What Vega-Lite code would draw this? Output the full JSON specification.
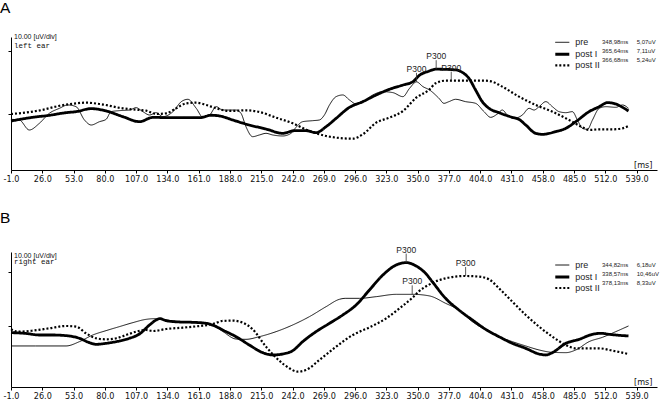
{
  "$schema": "https://vega.github.io/schema/vega-lite/v6.json",
  "padding": 0,
  "spacing": 28,
  "background": "white",
  "config": {"view": {"stroke": null}, "font": "Liberation Sans", "axis": {"labelOverlap": false}},
  "resolve": {
    "scale": {"strokeDash": "independent", "opacity": "independent"},
    "legend": {"strokeDash": "independent", "opacity": "independent"}
  },
  "datasets": {
    "a": [
      {"s":"pre","ms":-1,"uv":-0.85},{"s":"pre","ms":6.2,"uv":-0.95},{"s":"pre","ms":14.8,"uv":-2.54},{"s":"pre","ms":23.5,"uv":-1.48},{"s":"pre","ms":32.1,"uv":0.11},{"s":"pre","ms":40.8,"uv":0.9},{"s":"pre","ms":48,"uv":1.43},{"s":"pre","ms":55.2,"uv":1.16},{"s":"pre","ms":62.4,"uv":-0.95},{"s":"pre","ms":68.2,"uv":-1.75},{"s":"pre","ms":75.4,"uv":-1.22},{"s":"pre","ms":81.1,"uv":-0.85},{"s":"pre","ms":85.4,"uv":0.37},{"s":"pre","ms":92.6,"uv":0.53},{"s":"pre","ms":101.3,"uv":0.63},{"s":"pre","ms":107,"uv":1.0},{"s":"pre","ms":112.8,"uv":0.37},{"s":"pre","ms":118.6,"uv":-0.16},{"s":"pre","ms":124.3,"uv":0.21},{"s":"pre","ms":130.1,"uv":-0.42},{"s":"pre","ms":138.8,"uv":0.37},{"s":"pre","ms":146,"uv":1.96},{"s":"pre","ms":151.7,"uv":2.33},{"s":"pre","ms":158.9,"uv":0.9},{"s":"pre","ms":164.7,"uv":-0.53},{"s":"pre","ms":170.4,"uv":-0.16},{"s":"pre","ms":176.2,"uv":1.16},{"s":"pre","ms":181.7,"uv":0.63},{"s":"pre","ms":187.4,"uv":0.63},{"s":"pre","ms":193.2,"uv":0.63},{"s":"pre","ms":197.5,"uv":0.11},{"s":"pre","ms":201.8,"uv":-2.01},{"s":"pre","ms":207.6,"uv":-3.6},{"s":"pre","ms":213.4,"uv":-3.33},{"s":"pre","ms":219.1,"uv":-3.07},{"s":"pre","ms":224.9,"uv":-3.33},{"s":"pre","ms":233.5,"uv":-3.49},{"s":"pre","ms":240.7,"uv":-3.07},{"s":"pre","ms":245,"uv":-2.12},{"s":"pre","ms":250.8,"uv":-1.22},{"s":"pre","ms":259.5,"uv":-1.06},{"s":"pre","ms":265.2,"uv":-0.95},{"s":"pre","ms":269.5,"uv":-0.16},{"s":"pre","ms":273.9,"uv":1.43},{"s":"pre","ms":279.6,"uv":2.75},{"s":"pre","ms":285.4,"uv":3.02},{"s":"pre","ms":291.2,"uv":2.22},{"s":"pre","ms":296.9,"uv":1.59},{"s":"pre","ms":302.7,"uv":1.96},{"s":"pre","ms":311.3,"uv":3.02},{"s":"pre","ms":320,"uv":3.54},{"s":"pre","ms":328.6,"uv":3.39},{"s":"pre","ms":337.3,"uv":2.75},{"s":"pre","ms":343,"uv":4.07},{"s":"pre","ms":349,"uv":5.1},{"s":"pre","ms":354.6,"uv":4.34},{"s":"pre","ms":360.3,"uv":3.81},{"s":"pre","ms":368.4,"uv":2.49},{"s":"pre","ms":372.7,"uv":1.69},{"s":"pre","ms":377,"uv":1.96},{"s":"pre","ms":382.8,"uv":2.33},{"s":"pre","ms":391.4,"uv":1.96},{"s":"pre","ms":400,"uv":1.69},{"s":"pre","ms":407.3,"uv":0.37},{"s":"pre","ms":413,"uv":-0.53},{"s":"pre","ms":418.8,"uv":0},{"s":"pre","ms":423.1,"uv":0.63},{"s":"pre","ms":427.4,"uv":-0.16},{"s":"pre","ms":433.2,"uv":-0.69},{"s":"pre","ms":440.4,"uv":-0.16},{"s":"pre","ms":446.2,"uv":0.9},{"s":"pre","ms":450.5,"uv":0.63},{"s":"pre","ms":454.8,"uv":1.16},{"s":"pre","ms":460.6,"uv":1.96},{"s":"pre","ms":466.3,"uv":1.16},{"s":"pre","ms":472.1,"uv":0.37},{"s":"pre","ms":477.9,"uv":0.21},{"s":"pre","ms":483.6,"uv":0.37},{"s":"pre","ms":487.9,"uv":-0.95},{"s":"pre","ms":492.3,"uv":-2.28},{"s":"pre","ms":496.6,"uv":-2.44},{"s":"pre","ms":500.9,"uv":-0.95},{"s":"pre","ms":506.7,"uv":0.9},{"s":"pre","ms":512.4,"uv":1.16},{"s":"pre","ms":521.1,"uv":1.06},{"s":"pre","ms":526.8,"uv":1.43},{"s":"pre","ms":532,"uv":0.9},
      {"s":"post II","ms":-1,"uv":0},{"s":"post II","ms":11.1,"uv":0.21},{"s":"post II","ms":25.5,"uv":0.63},{"s":"post II","ms":40,"uv":1.27},{"s":"post II","ms":55.2,"uv":1.69},{"s":"post II","ms":63.8,"uv":1.8},{"s":"post II","ms":75.4,"uv":1.59},{"s":"post II","ms":95.5,"uv":0.9},{"s":"post II","ms":109.9,"uv":0.63},{"s":"post II","ms":115.7,"uv":0.53},{"s":"post II","ms":124.3,"uv":0.0},{"s":"post II","ms":133,"uv":0.11},{"s":"post II","ms":141.6,"uv":0.9},{"s":"post II","ms":150.3,"uv":1.69},{"s":"post II","ms":158.9,"uv":1.8},{"s":"post II","ms":167.6,"uv":1.43},{"s":"post II","ms":176.2,"uv":0.9},{"s":"post II","ms":187.4,"uv":0.48},{"s":"post II","ms":201.8,"uv":0.58},{"s":"post II","ms":213.4,"uv":0.32},{"s":"post II","ms":227.8,"uv":-0.58},{"s":"post II","ms":242.2,"uv":-1.48},{"s":"post II","ms":256.6,"uv":-2.7},{"s":"post II","ms":271,"uv":-3.49},{"s":"post II","ms":285.4,"uv":-3.86},{"s":"post II","ms":294,"uv":-3.92},{"s":"post II","ms":302.7,"uv":-3.23},{"s":"post II","ms":314.2,"uv":-1.38},{"s":"post II","ms":325.7,"uv":-0.58},{"s":"post II","ms":337.3,"uv":0.48},{"s":"post II","ms":348.8,"uv":2.59},{"s":"post II","ms":359.7,"uv":3.81},{"s":"post II","ms":365.5,"uv":4.87},{"s":"post II","ms":374.1,"uv":5.29},{"s":"post II","ms":394.3,"uv":5.29},{"s":"post II","ms":408.7,"uv":5.29},{"s":"post II","ms":414.4,"uv":5.13},{"s":"post II","ms":423.1,"uv":4.34},{"s":"post II","ms":437.5,"uv":2.75},{"s":"post II","ms":451.9,"uv":1.43},{"s":"post II","ms":466.3,"uv":0.37},{"s":"post II","ms":480.7,"uv":-0.95},{"s":"post II","ms":492.3,"uv":-2.12},{"s":"post II","ms":498,"uv":-2.54},{"s":"post II","ms":506.7,"uv":-2.44},{"s":"post II","ms":518.2,"uv":-2.44},{"s":"post II","ms":526.8,"uv":-2.28},{"s":"post II","ms":532,"uv":-1.9},
      {"s":"post I","ms":-1,"uv":-1.11},{"s":"post I","ms":17.7,"uv":-0.53},{"s":"post I","ms":32.1,"uv":-0.21},{"s":"post I","ms":46.5,"uv":0.21},{"s":"post I","ms":55.2,"uv":0.37},{"s":"post I","ms":68.2,"uv":0.85},{"s":"post I","ms":81.1,"uv":0.48},{"s":"post I","ms":95.5,"uv":-0.42},{"s":"post I","ms":109.9,"uv":-1.22},{"s":"post I","ms":121.5,"uv":-0.53},{"s":"post I","ms":133,"uv":-0.58},{"s":"post I","ms":147.4,"uv":-0.58},{"s":"post I","ms":161.8,"uv":-0.58},{"s":"post I","ms":172,"uv":-0.2},{"s":"post I","ms":180,"uv":-0.35},{"s":"post I","ms":190.3,"uv":-0.95},{"s":"post I","ms":204.7,"uv":-1.75},{"s":"post I","ms":219.1,"uv":-2.38},{"s":"post I","ms":233.5,"uv":-3.07},{"s":"post I","ms":243.6,"uv":-2.65},{"s":"post I","ms":253.7,"uv":-2.65},{"s":"post I","ms":262.3,"uv":-2.96},{"s":"post I","ms":271,"uv":-2.01},{"s":"post I","ms":279.6,"uv":-0.69},{"s":"post I","ms":291.2,"uv":1.06},{"s":"post I","ms":302.7,"uv":1.96},{"s":"post I","ms":314.2,"uv":3.02},{"s":"post I","ms":325.7,"uv":3.92},{"s":"post I","ms":337.3,"uv":4.6},{"s":"post I","ms":345.9,"uv":5.13},{"s":"post I","ms":352,"uv":6.2},{"s":"post I","ms":359,"uv":6.75},{"s":"post I","ms":366,"uv":7.11},{"s":"post I","ms":382.8,"uv":7.0},{"s":"post I","ms":388.5,"uv":6.61},{"s":"post I","ms":394.3,"uv":5.66},{"s":"post I","ms":400,"uv":3.81},{"s":"post I","ms":405.8,"uv":1.96},{"s":"post I","ms":411.6,"uv":0.9},{"s":"post I","ms":420.2,"uv":0.21},{"s":"post I","ms":431.7,"uv":-0.53},{"s":"post I","ms":437.5,"uv":-0.85},{"s":"post I","ms":443.3,"uv":-1.75},{"s":"post I","ms":451.9,"uv":-3.07},{"s":"post I","ms":457.7,"uv":-3.23},{"s":"post I","ms":469.2,"uv":-2.8},{"s":"post I","ms":477.9,"uv":-2.28},{"s":"post I","ms":486.5,"uv":-1.22},{"s":"post I","ms":498,"uv":0.37},{"s":"post I","ms":506.7,"uv":1.16},{"s":"post I","ms":513.9,"uv":1.8},{"s":"post I","ms":521.1,"uv":1.59},{"s":"post I","ms":526.8,"uv":1.06},{"s":"post I","ms":532,"uv":0.48}
    ],
    "b": [
      {"s":"pre","ms":-1,"uv":-3.7},{"s":"pre","ms":20,"uv":-3.7},{"s":"pre","ms":46.5,"uv":-3.7},{"s":"pre","ms":58.1,"uv":-2.9},{"s":"pre","ms":69.6,"uv":-1.67},{"s":"pre","ms":81.1,"uv":-0.86},{"s":"pre","ms":92.6,"uv":-0.12},{"s":"pre","ms":104.2,"uv":0.62},{"s":"pre","ms":115.7,"uv":1.23},{"s":"pre","ms":124.3,"uv":1.36},{"s":"pre","ms":133,"uv":1.11},{"s":"pre","ms":144.5,"uv":0.8},{"s":"pre","ms":156,"uv":0.62},{"s":"pre","ms":167.6,"uv":0.49},{"s":"pre","ms":176.2,"uv":-0.25},{"s":"pre","ms":181.7,"uv":-1.0},{"s":"pre","ms":193.2,"uv":-2.41},{"s":"pre","ms":201.8,"uv":-2.47},{"s":"pre","ms":213.4,"uv":-1.98},{"s":"pre","ms":227.8,"uv":-1.05},{"s":"pre","ms":242.2,"uv":0.19},{"s":"pre","ms":256.6,"uv":1.73},{"s":"pre","ms":271,"uv":3.58},{"s":"pre","ms":282.5,"uv":4.94},{"s":"pre","ms":288,"uv":5.12},{"s":"pre","ms":299.8,"uv":5.12},{"s":"pre","ms":314.2,"uv":5.43},{"s":"pre","ms":331.5,"uv":5.86},{"s":"pre","ms":345.9,"uv":5.86},{"s":"pre","ms":360.3,"uv":5.56},{"s":"pre","ms":374.1,"uv":4.2},{"s":"pre","ms":385.6,"uv":2.96},{"s":"pre","ms":397.2,"uv":0.8},{"s":"pre","ms":408.7,"uv":-0.74},{"s":"pre","ms":420.2,"uv":-1.98},{"s":"pre","ms":431.7,"uv":-2.9},{"s":"pre","ms":443.3,"uv":-3.7},{"s":"pre","ms":454.8,"uv":-4.44},{"s":"pre","ms":466.3,"uv":-4.88},{"s":"pre","ms":477.9,"uv":-4.94},{"s":"pre","ms":486.5,"uv":-4.44},{"s":"pre","ms":498,"uv":-2.9},{"s":"pre","ms":509.5,"uv":-2.1},{"s":"pre","ms":521,"uv":-1.05},{"s":"pre","ms":532,"uv":0},
      {"s":"post II","ms":-1,"uv":-0.62},{"s":"post II","ms":5.3,"uv":-1.05},{"s":"post II","ms":17.7,"uv":-0.86},{"s":"post II","ms":32.1,"uv":-0.43},{"s":"post II","ms":46.5,"uv":0},{"s":"post II","ms":55.2,"uv":-0.12},{"s":"post II","ms":63.8,"uv":-1.36},{"s":"post II","ms":72.5,"uv":-2.28},{"s":"post II","ms":81.1,"uv":-2.47},{"s":"post II","ms":89.8,"uv":-2.28},{"s":"post II","ms":98.4,"uv":-1.67},{"s":"post II","ms":107,"uv":-1.05},{"s":"post II","ms":115.7,"uv":-0.74},{"s":"post II","ms":121.5,"uv":-0.93},{"s":"post II","ms":133,"uv":-0.56},{"s":"post II","ms":147.4,"uv":-0.31},{"s":"post II","ms":161.8,"uv":0},{"s":"post II","ms":173.3,"uv":0.37},{"s":"post II","ms":181.7,"uv":0.93},{"s":"post II","ms":190.3,"uv":0.99},{"s":"post II","ms":199,"uv":0.62},{"s":"post II","ms":207.6,"uv":-0.62},{"s":"post II","ms":219.1,"uv":-3.83},{"s":"post II","ms":230.6,"uv":-6.42},{"s":"post II","ms":239.3,"uv":-7.84},{"s":"post II","ms":246.5,"uv":-8.46},{"s":"post II","ms":253.7,"uv":-8.15},{"s":"post II","ms":265.2,"uv":-6.3},{"s":"post II","ms":279.6,"uv":-3.83},{"s":"post II","ms":294,"uv":-1.67},{"s":"post II","ms":308.4,"uv":-0.25},{"s":"post II","ms":322.9,"uv":1.42},{"s":"post II","ms":334.4,"uv":3.27},{"s":"post II","ms":345.9,"uv":5.31},{"s":"post II","ms":351.1,"uv":6.4},{"s":"post II","ms":360.3,"uv":7.7},{"s":"post II","ms":374.1,"uv":8.83},{"s":"post II","ms":391.4,"uv":9.26},{"s":"post II","ms":402.9,"uv":9.14},{"s":"post II","ms":411.6,"uv":8.64},{"s":"post II","ms":420.2,"uv":6.98},{"s":"post II","ms":431.7,"uv":4.51},{"s":"post II","ms":443.3,"uv":2.04},{"s":"post II","ms":454.8,"uv":-0.12},{"s":"post II","ms":466.3,"uv":-1.98},{"s":"post II","ms":477.9,"uv":-3.52},{"s":"post II","ms":486.5,"uv":-4.14},{"s":"post II","ms":495.1,"uv":-4.14},{"s":"post II","ms":506.7,"uv":-4.14},{"s":"post II","ms":518.2,"uv":-4.57},{"s":"post II","ms":532,"uv":-5.19},
      {"s":"post I","ms":-1,"uv":-1.23},{"s":"post I","ms":11,"uv":-1.36},{"s":"post I","ms":23.5,"uv":-1.67},{"s":"post I","ms":35,"uv":-1.67},{"s":"post I","ms":46.5,"uv":-1.79},{"s":"post I","ms":58.1,"uv":-2.28},{"s":"post I","ms":66.7,"uv":-3.09},{"s":"post I","ms":72.5,"uv":-3.4},{"s":"post I","ms":81.1,"uv":-3.21},{"s":"post I","ms":92.6,"uv":-2.78},{"s":"post I","ms":101.3,"uv":-2.28},{"s":"post I","ms":109.9,"uv":-1.48},{"s":"post I","ms":118.6,"uv":0.19},{"s":"post I","ms":124.3,"uv":1.11},{"s":"post I","ms":127.2,"uv":1.36},{"s":"post I","ms":133,"uv":0.99},{"s":"post I","ms":144.5,"uv":0.74},{"s":"post I","ms":156,"uv":0.68},{"s":"post I","ms":167.6,"uv":0.49},{"s":"post I","ms":176.2,"uv":-0.12},{"s":"post I","ms":181.7,"uv":-0.74},{"s":"post I","ms":193.2,"uv":-1.98},{"s":"post I","ms":204.7,"uv":-3.52},{"s":"post I","ms":216.2,"uv":-4.94},{"s":"post I","ms":224.9,"uv":-5.37},{"s":"post I","ms":233.5,"uv":-5.19},{"s":"post I","ms":242.2,"uv":-4.57},{"s":"post I","ms":250.8,"uv":-2.9},{"s":"post I","ms":262.3,"uv":-1.05},{"s":"post I","ms":273.9,"uv":0.49},{"s":"post I","ms":285.4,"uv":2.04},{"s":"post I","ms":296.9,"uv":3.89},{"s":"post I","ms":308.4,"uv":6.67},{"s":"post I","ms":320,"uv":9.44},{"s":"post I","ms":331.5,"uv":11.3},{"s":"post I","ms":340.1,"uv":11.73},{"s":"post I","ms":348.8,"uv":11.1},{"s":"post I","ms":356.8,"uv":9.75},{"s":"post I","ms":362.6,"uv":8.21},{"s":"post I","ms":374.1,"uv":5.12},{"s":"post I","ms":385.6,"uv":2.96},{"s":"post I","ms":397.2,"uv":1.11},{"s":"post I","ms":408.7,"uv":-0.62},{"s":"post I","ms":420.2,"uv":-1.98},{"s":"post I","ms":431.7,"uv":-3.21},{"s":"post I","ms":443.3,"uv":-4.14},{"s":"post I","ms":454.8,"uv":-5.19},{"s":"post I","ms":460.6,"uv":-5.37},{"s":"post I","ms":466.3,"uv":-4.94},{"s":"post I","ms":477.9,"uv":-3.21},{"s":"post I","ms":489.4,"uv":-2.47},{"s":"post I","ms":500.9,"uv":-1.54},{"s":"post I","ms":508.1,"uv":-1.36},{"s":"post I","ms":515.3,"uv":-1.54},{"s":"post I","ms":524,"uv":-1.73},{"s":"post I","ms":532,"uv":-1.85}
    ],
    "pa": [
      {"s":"pre","ms":349,"uv":5.1,"info":"348,98ms\u00a0\u00a0\u00a0\u00a0\u00a05,07uV"},
      {"s":"post I","ms":366,"uv":7.11,"info":"365,64ms\u00a0\u00a0\u00a0\u00a0\u00a07,11uV"},
      {"s":"post II","ms":379,"uv":5.29,"info":"366,68ms\u00a0\u00a0\u00a0\u00a0\u00a05,24uV"}
    ],
    "pb": [
      {"s":"pre","ms":345.3,"uv":5.86,"info":"344,82ms\u00a0\u00a0\u00a0\u00a0\u00a06,18uV"},
      {"s":"post I","ms":340.1,"uv":11.73,"info":"338,57ms\u00a0\u00a0\u00a0\u00a0\u00a010,46uV"},
      {"s":"post II","ms":391.4,"uv":9.26,"info":"378,13ms\u00a0\u00a0\u00a0\u00a0\u00a08,33uV"}
    ]
  },
  "vconcat": [
    {
      "title": {"text": "A", "anchor": "start", "frame": "group", "font": "Liberation Sans", "fontSize": 15.5, "fontWeight": "normal", "color": "#000", "dx": -11, "offset": 17},
      "width": 646,
      "height": 133,
      "resolve": {"axis": {"x": "independent"}},
      "layer": [
        {
          "data": {"name": "a"},
          "mark": {"type": "line", "interpolate": "monotone", "stroke": "#000", "strokeCap": "butt", "strokeJoin": "round"},
          "encoding": {
            "x": {"field": "ms", "type": "quantitative", "scale": {"domain": [-1, 556.6], "nice": false, "zero": false},
              "axis": {"orient": "bottom", "values": [-1,53,107,161,215,269,323,377,431,485,539],
                "labelExpr": "(datum.value < 0 ? '-' : '') + format(abs(datum.value), '.1f')",
                "labelFont": "Liberation Sans Narrow, DejaVu Sans Condensed, sans-serif", "labelFontSize": 9, "labelColor": "#111", "labelPadding": 1, "labelOverlap": false, "labelFlush": false,
                "tickSize": 3, "tickColor": "#000", "domainColor": "#000", "grid": false,
                "title": "[ms]", "titleX": 641, "titleY": -3, "titleAlign": "right", "titleBaseline": "alphabetic", "titleFont": "Liberation Sans Narrow, DejaVu Sans Condensed, sans-serif", "titleFontSize": 9, "titleFontWeight": "normal", "titleColor": "#111"}},
            "y": {"field": "uv", "type": "quantitative", "scale": {"domain": [-8.89, 12.22], "nice": false, "zero": false},
              "axis": {"values": [0, 10], "labels": false, "tickSize": 3, "tickColor": "#000", "domainColor": "#000", "grid": false, "title": null}},
            "strokeDash": {"field": "s", "type": "nominal", "scale": {"domain": ["pre", "post I", "post II"], "range": [[1, 0], [1, 0], [2, 2]]},
              "legend": {"orient": "none", "legendX": 546.8, "legendY": 0.8, "title": null, "padding": 0, "rowPadding": 0,
                "symbolType": "M-3.5,0H3.5", "symbolSize": 16, "symbolStrokeColor": "#000", "symbolFillColor": "transparent",
                "symbolStrokeWidth": {"expr": "datum.value == 'post I' ? 3 : (datum.value == 'pre' ? 1 : 2.2)"},
                "labelFont": "Liberation Sans", "labelFontSize": 9, "labelColor": "#222", "labelOffset": 8.5, "labelLimit": 0}},
            "strokeWidth": {"condition": [{"test": "datum.s === 'post I'", "value": 2.8}, {"test": "datum.s === 'post II'", "value": 2.2}], "value": 0.9}
          }
        },
        {
          "data": {"name": "pa"},
          "mark": {"type": "rule", "y2Offset": -9, "stroke": "#333", "strokeWidth": 0.8},
          "encoding": {
            "x": {"field": "ms", "type": "quantitative",
              "axis": {"orient": "bottom", "values": [26,80,134,188,242,296,350,404,458,512],
                "labelExpr": "format(datum.value, '.1f')",
                "labelFont": "Liberation Sans Narrow, DejaVu Sans Condensed, sans-serif", "labelFontSize": 9, "labelColor": "#111", "labelPadding": 1, "labelOverlap": false, "labelFlush": false,
                "tickSize": 3, "tickColor": "#000", "domain": false, "grid": false, "title": null}},
            "y": {"field": "uv", "type": "quantitative"},
            "y2": {"field": "uv"}
          }
        },
        {
          "data": {"name": "pa"},
          "mark": {"type": "text", "baseline": "alphabetic", "dy": -10, "font": "Liberation Sans", "fontSize": 8.5, "color": "#222"},
          "encoding": {
            "x": {"field": "ms", "type": "quantitative", "axis": null},
            "y": {"field": "uv", "type": "quantitative"},
            "text": {"value": "P300"},
            "opacity": {"field": "info", "type": "nominal",
              "scale": {"domain": ["348,98ms\u00a0\u00a0\u00a0\u00a0\u00a05,07uV", "365,64ms\u00a0\u00a0\u00a0\u00a0\u00a07,11uV", "366,68ms\u00a0\u00a0\u00a0\u00a0\u00a05,24uV"], "range": [1, 1]},
              "legend": {"orient": "none", "legendX": 585, "legendY": 2.3, "title": null, "padding": 0, "rowPadding": 3,
                "symbolOpacity": 0, "symbolSize": 0, "symbolStrokeWidth": 0,
                "labelFont": "Liberation Sans", "labelFontSize": 6, "labelColor": "#222", "labelOffset": 0, "labelLimit": 0}}
          }
        },
        {
          "data": {"values": [{}]},
          "mark": {"type": "text", "align": "left", "baseline": "top", "dx": 3, "dy": -4, "font": "Liberation Sans", "fontSize": 7, "color": "#111"},
          "encoding": {"x": {"datum": -1, "type": "quantitative", "axis": null}, "y": {"datum": 12.22, "type": "quantitative"}, "text": {"value": "10.00 [uV/div]"}}
        },
        {
          "data": {"values": [{}]},
          "mark": {"type": "text", "align": "left", "baseline": "top", "dx": 3, "dy": 5, "font": "Liberation Mono", "fontSize": 7.5, "color": "#111"},
          "encoding": {"x": {"datum": -1, "type": "quantitative", "axis": null}, "y": {"datum": 12.22, "type": "quantitative"}, "text": {"value": "left ear"}}
        }
      ]
    },
    {
      "title": {"text": "B", "anchor": "start", "frame": "group", "font": "Liberation Sans", "fontSize": 15.5, "fontWeight": "normal", "color": "#000", "dx": -11, "offset": 19},
      "width": 646,
      "height": 135,
      "resolve": {"axis": {"x": "independent"}},
      "layer": [
        {
          "data": {"name": "b"},
          "mark": {"type": "line", "interpolate": "monotone", "stroke": "#000", "strokeCap": "butt", "strokeJoin": "round"},
          "encoding": {
            "x": {"field": "ms", "type": "quantitative", "scale": {"domain": [-1, 556.6], "nice": false, "zero": false},
              "axis": {"orient": "bottom", "values": [-1,53,107,161,215,269,323,377,431,485,539],
                "labelExpr": "(datum.value < 0 ? '-' : '') + format(abs(datum.value), '.1f')",
                "labelFont": "Liberation Sans Narrow, DejaVu Sans Condensed, sans-serif", "labelFontSize": 9, "labelColor": "#111", "labelPadding": 1, "labelOverlap": false, "labelFlush": false,
                "tickSize": 3, "tickColor": "#000", "domainColor": "#000", "grid": false,
                "title": "[ms]", "titleX": 641, "titleY": -3, "titleAlign": "right", "titleBaseline": "alphabetic", "titleFont": "Liberation Sans Narrow, DejaVu Sans Condensed, sans-serif", "titleFontSize": 9, "titleFontWeight": "normal", "titleColor": "#111"}},
            "y": {"field": "uv", "type": "quantitative", "scale": {"domain": [-11.3, 13.7], "nice": false, "zero": false},
              "axis": {"values": [0, 10], "labels": false, "tickSize": 3, "tickColor": "#000", "domainColor": "#000", "grid": false, "title": null}},
            "strokeDash": {"field": "s", "type": "nominal", "scale": {"domain": ["pre", "post I", "post II"], "range": [[1, 0], [1, 0], [2, 2]]},
              "legend": {"orient": "none", "legendX": 546.8, "legendY": 8.5, "title": null, "padding": 0, "rowPadding": 0,
                "symbolType": "M-3.5,0H3.5", "symbolSize": 16, "symbolStrokeColor": "#000", "symbolFillColor": "transparent",
                "symbolStrokeWidth": {"expr": "datum.value == 'post I' ? 3 : (datum.value == 'pre' ? 1 : 2.2)"},
                "labelFont": "Liberation Sans", "labelFontSize": 9, "labelColor": "#222", "labelOffset": 8.5, "labelLimit": 0}},
            "strokeWidth": {"condition": [{"test": "datum.s === 'post I'", "value": 2.8}, {"test": "datum.s === 'post II'", "value": 2.2}], "value": 0.9}
          }
        },
        {
          "data": {"name": "pb"},
          "mark": {"type": "rule", "y2Offset": -9, "stroke": "#333", "strokeWidth": 0.8},
          "encoding": {
            "x": {"field": "ms", "type": "quantitative",
              "axis": {"orient": "bottom", "values": [26,80,134,188,242,296,350,404,458,512],
                "labelExpr": "format(datum.value, '.1f')",
                "labelFont": "Liberation Sans Narrow, DejaVu Sans Condensed, sans-serif", "labelFontSize": 9, "labelColor": "#111", "labelPadding": 1, "labelOverlap": false, "labelFlush": false,
                "tickSize": 3, "tickColor": "#000", "domain": false, "grid": false, "title": null}},
            "y": {"field": "uv", "type": "quantitative"},
            "y2": {"field": "uv"}
          }
        },
        {
          "data": {"name": "pb"},
          "mark": {"type": "text", "baseline": "alphabetic", "dy": -10, "font": "Liberation Sans", "fontSize": 8.5, "color": "#222"},
          "encoding": {
            "x": {"field": "ms", "type": "quantitative", "axis": null},
            "y": {"field": "uv", "type": "quantitative"},
            "text": {"value": "P300"},
            "opacity": {"field": "info", "type": "nominal",
              "scale": {"domain": ["344,82ms\u00a0\u00a0\u00a0\u00a0\u00a06,18uV", "338,57ms\u00a0\u00a0\u00a0\u00a0\u00a010,46uV", "378,13ms\u00a0\u00a0\u00a0\u00a0\u00a08,33uV"], "range": [1, 1]},
              "legend": {"orient": "none", "legendX": 585, "legendY": 10, "title": null, "padding": 0, "rowPadding": 3,
                "symbolOpacity": 0, "symbolSize": 0, "symbolStrokeWidth": 0,
                "labelFont": "Liberation Sans", "labelFontSize": 6, "labelColor": "#222", "labelOffset": 0, "labelLimit": 0}}
          }
        },
        {
          "data": {"values": [{}]},
          "mark": {"type": "text", "align": "left", "baseline": "top", "dx": 3, "dy": 0, "font": "Liberation Sans", "fontSize": 7, "color": "#111"},
          "encoding": {"x": {"datum": -1, "type": "quantitative", "axis": null}, "y": {"datum": 13.7, "type": "quantitative"}, "text": {"value": "10.00 [uV/div]"}}
        },
        {
          "data": {"values": [{}]},
          "mark": {"type": "text", "align": "left", "baseline": "top", "dx": 3, "dy": 6, "font": "Liberation Mono", "fontSize": 7.5, "color": "#111"},
          "encoding": {"x": {"datum": -1, "type": "quantitative", "axis": null}, "y": {"datum": 13.7, "type": "quantitative"}, "text": {"value": "right ear"}}
        }
      ]
    }
  ]
}
